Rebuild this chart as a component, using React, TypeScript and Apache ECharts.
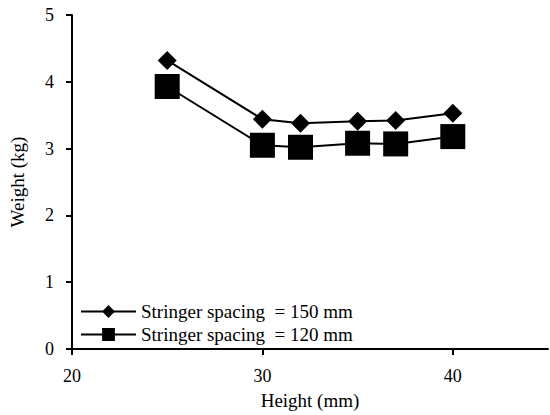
import React, { useEffect, useRef } from "react";
import * as echarts from "echarts";

const heights = [25, 30, 32, 35, 37, 40];
const weight150 = [4.32, 3.44, 3.38, 3.41, 3.42, 3.53];
const weight120 = [3.93, 3.05, 3.02, 3.08, 3.07, 3.18];
const xTicks = [20, 30, 40];
const seriesNames = ["Stringer spacing  = 150 mm", "Stringer spacing  = 120 mm"];

export default function App() {
  const ref = useRef<HTMLDivElement>(null);
  useEffect(() => {
    if (!ref.current) return;
    const chart = echarts.init(ref.current, undefined, { renderer: "svg" });
    const font = "'Liberation Serif', 'Times New Roman', serif";
    chart.setOption({
      animation: false,
      backgroundColor: "#ffffff",
      textStyle: { fontFamily: font, color: "#000" },
      grid: { left: 71, right: 2, top: 15, bottom: 62, containLabel: false },
      legend: {
        orient: "vertical",
        left: 80,
        top: 302,
        padding: 0,
        itemWidth: 55,
        itemHeight: 16,
        itemGap: 4,
        textStyle: { fontFamily: font, fontSize: 19, color: "#000" },
        data: seriesNames,
      },
      xAxis: {
        type: "value",
        min: 20,
        max: 45,
        interval: 10,
        name: "Height (mm)",
        nameLocation: "middle",
        nameGap: 42,
        nameTextStyle: { fontFamily: font, fontSize: 19, color: "#000" },
        axisLine: { show: true, lineStyle: { color: "#000", width: 2 } },
        axisTick: { show: true, length: 6, customValues: xTicks, lineStyle: { color: "#000", width: 2 } },
        axisLabel: { customValues: xTicks, fontFamily: font, fontSize: 18, color: "#000", margin: 18 },
        splitLine: { show: false },
      },
      yAxis: {
        type: "value",
        min: 0,
        max: 5,
        interval: 1,
        name: "Weight (kg)",
        nameLocation: "middle",
        nameGap: 45,
        nameTextStyle: { fontFamily: font, fontSize: 19, color: "#000" },
        axisLine: { show: true, lineStyle: { color: "#000", width: 2 } },
        axisTick: { show: true, length: 6, lineStyle: { color: "#000", width: 2 } },
        axisLabel: { fontFamily: font, fontSize: 18, color: "#000", margin: 18 },
        splitLine: { show: false },
      },
      series: [
        {
          name: seriesNames[0],
          type: "line",
          data: heights.map((h, i) => [h, weight150[i]]),
          symbol: "diamond",
          symbolSize: 19,
          itemStyle: { color: "#000" },
          lineStyle: { color: "#000", width: 2 },
        },
        {
          name: seriesNames[1],
          type: "line",
          data: heights.map((h, i) => [h, weight120[i]]),
          symbol: "rect",
          symbolSize: 25,
          itemStyle: { color: "#000" },
          lineStyle: { color: "#000", width: 2 },
        },
      ],
    });
    return () => chart.dispose();
  }, []);
  return (
    <div
      ref={ref}
      style={{ position: "fixed", left: 0, top: 0, width: 550, height: 415 }}
    />
  );
}
